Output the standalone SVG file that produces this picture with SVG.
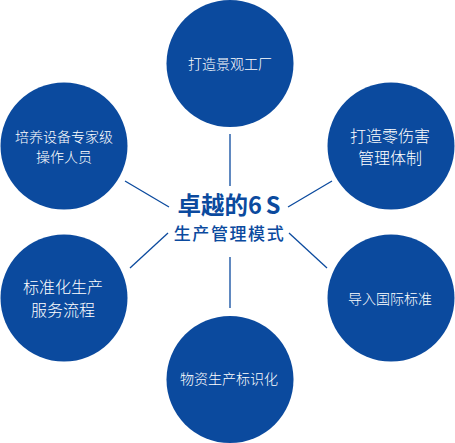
<svg xmlns="http://www.w3.org/2000/svg" width="455" height="443" viewBox="0 0 455 443">
<style>
.n{fill:#0b4a9e}
.t{fill:#ffffff;font-family:"Noto Sans CJK SC","Noto Sans",sans-serif;font-weight:300;text-anchor:middle;dominant-baseline:central}
.c{fill:#0b4a9e;font-family:"Noto Sans CJK SC","Noto Sans",sans-serif;text-anchor:middle;dominant-baseline:central}
.l{stroke:#0b4a9e;stroke-width:1.3;fill:none}
</style>
<rect width="455" height="443" fill="#ffffff"/>
<g id="connectors">
<line class="l" x1="230" y1="134" x2="230" y2="186"/>
<line class="l" x1="230" y1="257" x2="230" y2="308"/>
<line class="l" x1="125" y1="181" x2="169" y2="207"/>
<line class="l" x1="288" y1="207" x2="332" y2="181"/>
<line class="l" x1="130" y1="268" x2="168" y2="233"/>
<line class="l" x1="289" y1="233" x2="327" y2="268"/>
</g>
<g id="center">
<text class="c" x="229" y="204" font-size="23.5" font-weight="700">卓越的6<tspan dx="4">S</tspan></text>
<text class="c" x="229.5" y="232.5" font-size="17" font-weight="500" letter-spacing="1.6">生产管理模式</text>
</g>
<g id="node-top">
<circle class="n" cx="230" cy="63.5" r="63.5"/>
<text class="t" x="230" y="63" font-size="14">打造景观工厂</text>
</g>
<g id="node-top-left">
<circle class="n" cx="64" cy="146" r="63.5"/>
<text class="t" x="64" y="136" font-size="14">培养设备专家级</text>
<text class="t" x="64" y="156" font-size="14">操作人员</text>
</g>
<g id="node-top-right">
<circle class="n" cx="391" cy="146" r="63.5"/>
<text class="t" x="390" y="135" font-size="16">打造零伤害</text>
<text class="t" x="390" y="157" font-size="16">管理体制</text>
</g>
<g id="node-bottom-left">
<circle class="n" cx="64" cy="298" r="63.5"/>
<text class="t" x="63" y="286" font-size="16">标准化生产</text>
<text class="t" x="63" y="309" font-size="16">服务流程</text>
</g>
<g id="node-bottom-right">
<circle class="n" cx="391" cy="298" r="63.5"/>
<text class="t" x="390" y="298" font-size="14">导入国际标准</text>
</g>
<g id="node-bottom">
<circle class="n" cx="230" cy="379.5" r="63.5"/>
<text class="t" x="229" y="378" font-size="14">物资生产标识化</text>
</g>
</svg>
